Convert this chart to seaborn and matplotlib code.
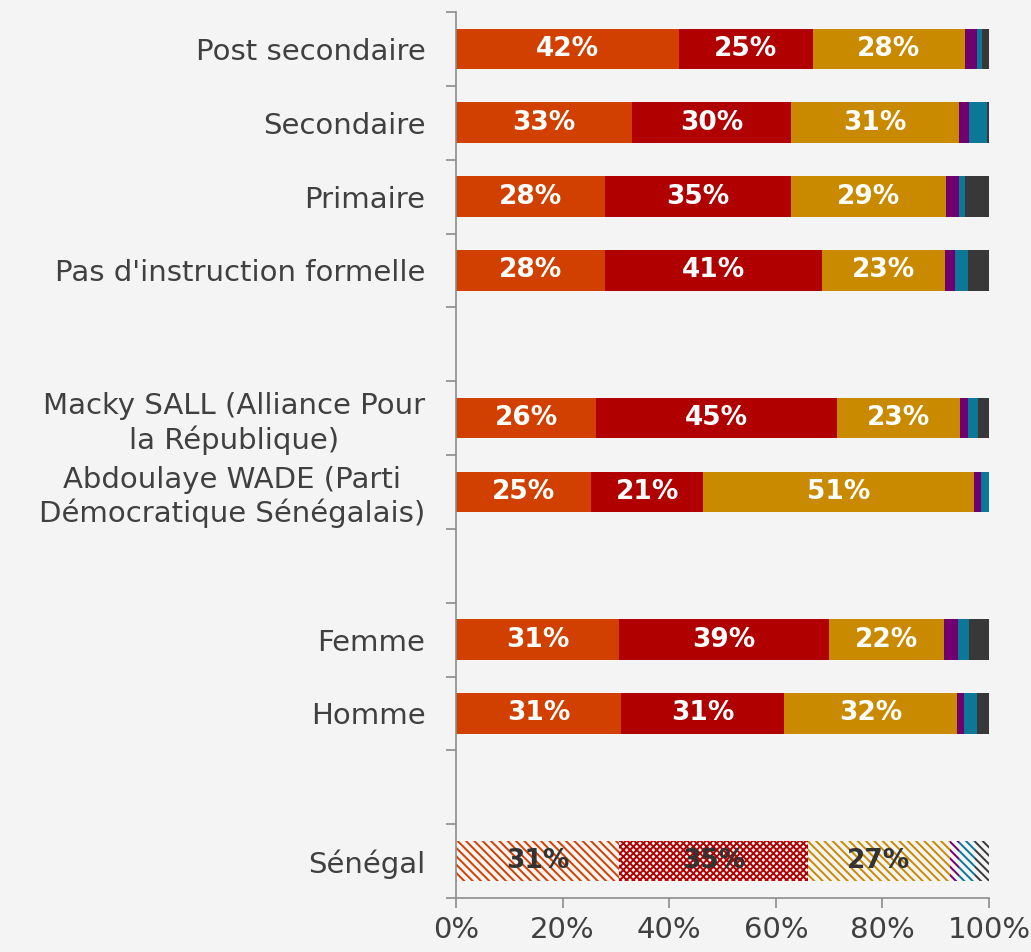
import numpy as np
import pandas as pd
import matplotlib
matplotlib.use("Agg")
import matplotlib.pyplot as plt
import seaborn as sns

# rows from top to bottom, blanks are gaps between blocks
order = ["Post secondaire", "Secondaire", "Primaire", "Pas d'instruction formelle", " ",
         "Macky SALL (Alliance Pour\nla République)",
         "Abdoulaye WADE (Parti\nDémocratique Sénégalais)", "  ",
         "Femme", "Homme", "   ", "Sénégal"]
rows = [r for r in order if r.strip() != ""]

# segment values (%) for each row, left to right
seg_orange = [41.8, 33.0, 28.0, 28.0, 26.3, 25.4, 30.6, 31.0, 30.6]
seg_red    = [25.2, 29.9, 34.8, 40.7, 45.1, 21.0, 39.4, 30.6, 35.4]
seg_gold   = [28.4, 31.4, 29.2, 23.1, 23.1, 50.7, 21.6, 32.3, 26.7]
seg_purple = [2.3, 1.9, 2.4, 1.9, 1.5, 1.3, 2.6, 1.4, 1.6]
seg_teal   = [0.9, 3.5, 1.0, 2.4, 1.9, 1.5, 2.0, 2.5, 3.1]
seg_dark   = [1.4, 0.3, 4.6, 3.9, 2.1, 0.1, 3.8, 2.2, 2.6]

xticks = [0, 20, 40, 60, 80, 100]
xticklabels = ["0%", "20%", "40%", "60%", "80%", "100%"]

colors = ["#D24000", "#B00000", "#C98A00", "#700070", "#0C7898", "#383838"]
diag = "\\" * 4
hatches = [diag, "xxxxx", diag, diag, diag, diag]
bg = "#F4F4F4"
txt = "#404040"

df = pd.DataFrame({"row": rows, "o": seg_orange, "r": seg_red, "g": seg_gold,
                   "p": seg_purple, "t": seg_teal, "d": seg_dark})
keys = ["o", "r", "g", "p", "t", "d"]
cum = df[keys].cumsum(axis=1)

plt.rcParams["hatch.linewidth"] = 1.4
fig, ax = plt.subplots(figsize=(10.31, 9.52), dpi=100)
fig.patch.set_facecolor(bg)
ax.set_facecolor(bg)
fig.subplots_adjust(left=0.4423, right=0.9593, top=0.9874, bottom=0.0567)

hatched_row = order.index("Sénégal")
# draw widest cumulative layer first so narrower ones sit on top
for k in range(len(keys) - 1, -1, -1):
    n0 = len(ax.patches)
    sns.barplot(x=cum[keys[k]], y=df["row"], order=order, orient="h",
                color=colors[k], saturation=1, width=0.55, ax=ax)
    for p in ax.patches[n0:]:
        p.set_linewidth(0)
        yc = p.get_y() + p.get_height() / 2
        if abs(yc - hatched_row) < 0.3:
            p.set_facecolor(bg)
            p.set_edgecolor(colors[k])
            p.set_hatch(hatches[k])

# value labels
for i, row in enumerate(rows):
    ypos = order.index(row)
    left = 0
    for k in keys:
        v = df.loc[i, k]
        if v >= 10:
            c = "#333333" if row == "Sénégal" else "white"
            ax.text(left + v / 2, ypos, f"{v:.0f}%", ha="center", va="center",
                    color=c, fontsize=19, fontweight="bold")
        left += v

ax.set_xlim(0, 100)
ax.set_ylim(len(order) - 0.5, -0.5)
ax.set_xlabel("")
ax.set_ylabel("")
ax.set_xticks(xticks)
ax.set_xticklabels(xticklabels)
ax.set_yticks(range(len(order)))
ax.set_yticklabels(order, multialignment="center")
ax.set_yticks(np.arange(-0.5, len(order), 1), minor=True)

for s in ["top", "right"]:
    ax.spines[s].set_visible(False)
for s in ["left", "bottom"]:
    ax.spines[s].set_color("#8C8C8C")
    ax.spines[s].set_linewidth(1.2)

ax.tick_params(axis="y", which="major", length=0, pad=22, labelsize=21, labelcolor=txt)
ax.tick_params(axis="y", which="minor", length=7, width=1.2, color="#8C8C8C", direction="out")
ax.tick_params(axis="x", length=7, width=1.2, color="#8C8C8C", direction="out",
               pad=6, labelsize=21, labelcolor=txt)

fig.savefig("out.png", dpi=100, facecolor=bg)
